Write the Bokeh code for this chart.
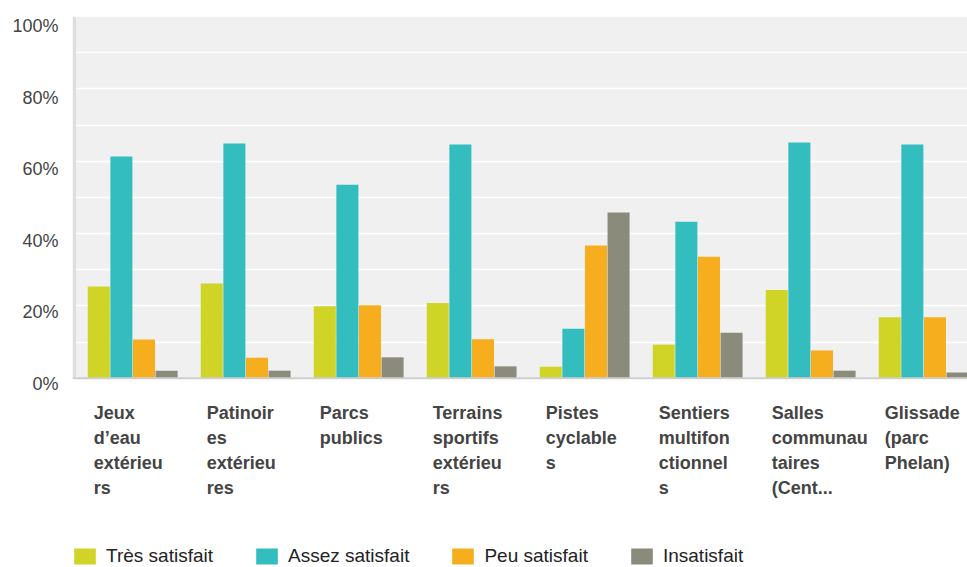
from bokeh.plotting import figure
from bokeh.models import (Range1d, LinearAxis, FixedTicker, BoxAnnotation, Span,
                          ColumnDataSource, Legend, LegendItem)
from bokeh.core.properties import value
from bokeh.embed import file_html
from bokeh.resources import INLINE
import numpy as np

# ---- data ----
categories = [
    "Jeux\nd\u2019eau\nextérieu\nrs",
    "Patinoir\nes\nextérieu\nres",
    "Parcs\npublics",
    "Terrains\nsportifs\nextérieu\nrs",
    "Pistes\ncyclable\ns",
    "Sentiers\nmultifon\nctionnel\ns",
    "Salles\ncommunau\ntaires\n(Cent...",
    "Glissade\n(parc\nPhelan)",
]
series_names = ["Très satisfait", "Assez satisfait", "Peu satisfait", "Insatisfait"]
tres_satisfait = [25.4, 26.2, 19.9, 20.8, 3.2, 9.3, 24.4, 16.9]
assez_satisfait = [61.3, 64.9, 53.5, 64.6, 13.7, 43.3, 65.2, 64.6]
peu_satisfait = [10.7, 5.7, 20.2, 10.8, 36.7, 33.6, 7.7, 16.9]
insatisfait = [2.1, 2.1, 5.8, 3.3, 45.8, 12.6, 2.1, 1.6]
y_ticks = [0, 20, 40, 60, 80, 100]
y_tick_labels = ["0%", "20%", "40%", "60%", "80%", "100%"]
grid_ticks = [10, 20, 30, 40, 50, 60, 70, 80, 90]

colors = ["#D0D427", "#33BDBF", "#F7AE1E", "#8A8B7A"]
series = [tres_satisfait, assez_satisfait, peu_satisfait, insatisfait]

n = len(categories)
X0, X1 = -0.0327, 7.888
Y0, Y1 = -52.3, 100

p = figure(width=967, height=567, output_backend="svg", toolbar_location=None,
           x_range=Range1d(X0, X1), y_range=Range1d(Y0, Y1),
           x_axis_location=None, y_axis_location=None,
           min_border_left=72, min_border_right=0, min_border_top=16, min_border_bottom=0)
p.outline_line_color = None
p.background_fill_color = "white"
p.border_fill_color = "white"
p.xgrid.visible = False

# plot area background
bg = BoxAnnotation(left=0, bottom=0, top=100, fill_color="#F0F0F0", fill_alpha=1,
                   line_color=None, level="image")
p.add_layout(bg)
p.ygrid.ticker = FixedTicker(ticks=grid_ticks)
p.ygrid.grid_line_color = "white"
p.ygrid.grid_line_width = 1.6

# y axis with labels slightly below grid lines
p.extra_y_ranges = {"lab": Range1d(-51.5, 102.8)}
yax = LinearAxis(y_range_name="lab", ticker=FixedTicker(ticks=y_ticks),
                 major_label_overrides={t: l for t, l in zip(y_ticks, y_tick_labels)})
yax.axis_line_color = None
yax.major_tick_line_color = None
yax.minor_tick_line_color = None
yax.major_label_standoff = 8
yax.major_label_text_font = "Liberation Sans"
yax.major_label_text_font_size = "18px"
yax.major_label_text_color = "#444444"
p.add_layout(yax, "left")

# bars
xs = np.arange(n)
renderers = []
for k, (vals, col) in enumerate(zip(series, colors)):
    src = ColumnDataSource(dict(x=xs + 0.2 + 0.2 * k, top=vals))
    r = p.vbar(x="x", top="top", bottom=0, width=0.195, source=src,
               fill_color=col, line_color=None)
    renderers.append(r)

# axis lines
p.segment(x0=[X0 / 2], y0=[0], x1=[X0 / 2], y1=[100], line_color="#DEDEDE", line_width=3.7)
p.add_layout(Span(location=0, dimension="width", line_color="#CFCFCF", line_width=2))

# category labels
lab_src = ColumnDataSource(dict(x=xs + 0.155, y=[-6.85] * n, text=categories))
p.text(x="x", y="y", text="text", source=lab_src, text_align="left", text_baseline="top",
       text_font=value("Liberation Sans"), text_font_style="bold", text_font_size="18px",
       text_color="#444444", text_line_height=1.25)

# legend
legend = Legend(items=[LegendItem(label=nm, renderers=[r]) for nm, r in zip(series_names, renderers)],
                orientation="horizontal", location=(-1, 0), glyph_width=27, glyph_height=20,
                label_standoff=8, spacing=40, padding=0, margin=0, border_line_color=None,
                background_fill_alpha=0, label_text_font="Liberation Sans",
                label_text_font_size="19px", label_text_color="#222222", label_height=20)
p.add_layout(legend)

open("out.html", "w").write(file_html(p, INLINE))
